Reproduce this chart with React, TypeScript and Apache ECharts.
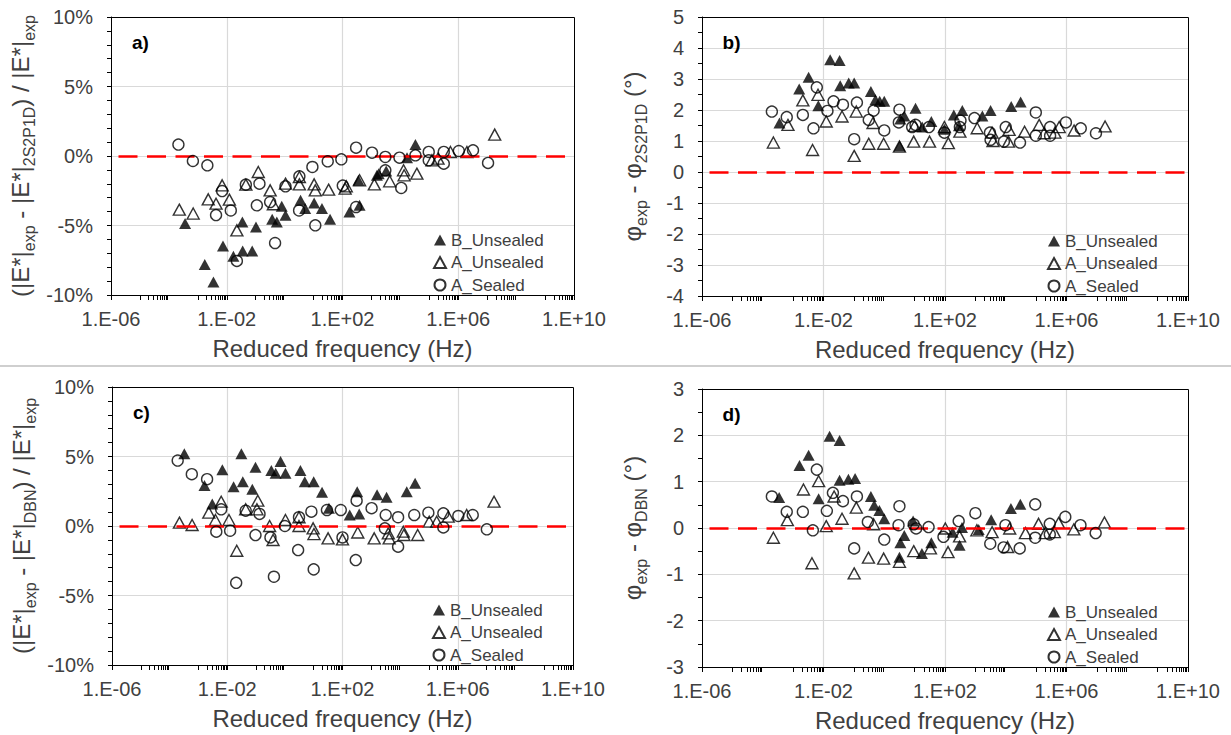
import React, { useEffect, useRef } from 'react';
import * as echarts from 'echarts';

// ---------- data (x = log10 of reduced frequency in Hz, y = deviation) ----------
const seriesNames = ['B_Unsealed', 'A_Unsealed', 'A_Sealed'];

// a) |E*| vs 2S2P1D (%)
const aB = [[-3.44,-4.86],[-2.76,-7.81],[-2.46,-9.06],[-2.13,-6.47],[-1.77,-7.22],[-1.46,-4.75],[-1.45,-6.83],[-1.12,-6.83],[-0.99,-5.11],[-0.43,-4.55],[-0.27,-4.75],[-0.10,-3.62],[0.03,-4.27],[0.55,-3.19],[0.71,-3.78],[1.02,-3.38],[1.29,-3.78],[1.57,-4.55],[2.24,-4.03],[2.59,-3.55],[2.55,-1.75],[3.19,-1.39],[3.25,-1.27],[3.51,-1.08],[4.23,-0.12],[4.52,0.82]];
const aA = [[-3.64,-3.86],[-3.16,-4.14],[-2.64,-3.12],[-2.37,-3.43],[-2.16,-2.11],[-1.91,-3.14],[-1.65,-5.35],[-1.34,-2.06],[-0.91,-1.15],[-0.50,-2.47],[-0.39,-3.47],[0.03,-1.99],[0.51,-1.51],[0.51,-2.04],[1.02,-2.04],[1.06,-2.47],[1.52,-2.42],[2.09,-2.35],[2.13,-2.18],[2.59,-1.75],[3.10,-2.04],[3.63,-1.82],[4.11,-1.03],[4.13,-1.39],[4.57,-1.27],[5.09,-0.31],[5.30,-0.19],[5.73,0.29],[6.30,0.29],[7.26,1.54]];
const aS = [[-3.67,0.82],[-3.17,-0.36],[-2.67,-0.67],[-2.37,-4.25],[-2.16,-2.52],[-1.86,-3.92],[-1.65,-7.55],[-1.34,-2.06],[-0.87,-1.99],[-0.96,-3.55],[-0.50,-3.31],[-0.33,-6.26],[0.03,-2.18],[0.51,-1.46],[0.50,-3.92],[0.96,-0.79],[1.06,-4.99],[1.49,-0.38],[1.96,-0.24],[2.01,-2.13],[2.47,0.60],[2.47,-3.67],[3.02,0.24],[3.48,-0.07],[3.48,-1.03],[3.97,-0.12],[4.03,-2.30],[4.52,0.05],[4.98,0.29],[4.98,-0.31],[5.50,0.29],[5.50,-0.55],[6.02,0.36],[6.51,0.41],[7.03,-0.50]];

// b) phase vs 2S2P1D (deg)
const bB = [[-3.45,1.58],[-2.80,2.68],[-2.49,3.06],[-2.17,2.14],[-1.78,3.62],[-1.47,3.60],[-1.45,2.78],[-1.17,2.87],[-0.99,2.87],[-0.44,2.60],[-0.29,2.33],[-0.15,2.28],[0.00,2.28],[0.53,1.71],[0.66,1.81],[0.51,0.84],[1.03,2.06],[1.25,1.45],[1.55,1.63],[1.98,1.38],[2.29,1.84],[2.57,1.98],[2.46,1.49],[3.23,1.81],[3.50,1.98],[4.18,2.11],[4.49,2.26]];
const bA = [[-3.65,0.95],[-3.17,1.52],[-2.68,2.31],[-2.36,0.71],[-2.18,2.49],[-1.91,1.63],[-1.39,1.79],[-0.99,0.52],[-0.92,1.95],[-0.51,0.91],[-0.37,1.58],[-0.02,0.91],[0.50,0.82],[0.97,0.98],[1.00,1.49],[1.49,0.98],[1.98,1.45],[2.11,0.93],[2.49,1.30],[3.06,1.41],[3.55,1.27],[3.58,1.00],[4.09,0.98],[4.11,1.36],[4.62,1.30],[5.10,1.52],[5.26,1.25],[5.62,1.27],[5.76,1.45],[6.25,1.34],[7.27,1.47]];
const bS = [[-3.70,1.95],[-3.21,1.77],[-2.68,1.84],[-2.33,1.41],[-2.22,2.73],[-1.87,1.97],[-1.67,2.28],[-1.36,2.17],[-0.99,1.06],[-0.90,2.24],[-0.51,1.68],[-0.35,1.98],[0.00,1.34],[0.50,2.01],[0.48,1.60],[0.92,1.45],[1.03,1.52],[1.47,1.45],[1.98,1.27],[2.49,1.45],[2.51,1.66],[2.97,1.74],[3.48,1.27],[3.50,1.04],[4.00,1.45],[3.94,0.98],[4.47,0.95],[4.99,1.92],[4.99,1.17],[5.46,1.45],[5.46,1.17],[5.98,1.60],[6.47,1.41],[6.97,1.25]];

// c) |E*| vs DBN (%)
const cB = [[-3.49,5.19],[-2.79,2.91],[-2.52,1.59],[-2.17,4.04],[-1.78,2.83],[-1.51,5.19],[-1.46,3.19],[-1.13,2.65],[-1.02,4.23],[-0.47,3.99],[-0.32,3.80],[-0.15,4.64],[0.02,3.80],[0.54,3.99],[0.69,3.19],[1.00,3.19],[1.29,2.43],[1.53,1.28],[2.25,0.79],[2.58,0.87],[2.51,2.47],[3.20,2.24],[3.53,2.07],[4.23,2.47],[4.52,3.08]];
const cA = [[-3.66,0.24],[-3.22,0.07],[-2.64,0.96],[-2.21,1.75],[-2.41,0.43],[-1.94,0.43],[-1.67,-1.78],[-1.36,1.20],[-0.94,1.82],[-0.97,1.20],[-0.53,0.00],[-0.41,-1.01],[0.02,0.43],[0.49,0.63],[0.49,0.00],[0.98,-0.17],[1.01,-0.58],[1.50,-0.89],[2.00,-0.96],[2.53,-0.47],[3.10,-0.89],[3.62,-0.89],[3.59,-0.53],[4.11,-0.41],[4.13,-0.65],[4.61,-0.65],[5.01,0.31],[5.27,0.31],[5.67,0.67],[6.31,0.79],[7.26,1.75]];
const cS = [[-3.72,4.71],[-3.23,3.73],[-2.70,3.37],[-2.21,1.20],[-2.38,-0.41],[-1.90,-0.34],[-1.69,-4.09],[-1.36,1.10],[-1.02,-0.65],[-0.88,0.87],[-0.50,-0.82],[-0.38,-3.65],[0.00,0.00],[0.49,0.63],[0.46,-1.73],[0.92,1.03],[1.00,-3.12],[1.46,1.15],[1.94,1.15],[2.00,-0.82],[2.49,1.82],[2.46,-2.45],[3.01,1.28],[3.50,0.79],[3.47,-0.17],[3.93,0.63],[3.93,-1.49],[4.49,0.79],[4.98,0.96],[5.50,0.91],[5.50,-0.10],[6.02,0.72],[6.52,0.79],[7.01,-0.24]];

// d) phase vs DBN (deg)
const dB = [[-3.46,0.66],[-2.79,1.35],[-2.49,1.57],[-2.16,0.63],[-1.80,1.98],[-1.47,1.89],[-1.47,1.03],[-1.18,1.05],[-0.96,1.07],[-0.44,0.68],[-0.33,0.49],[-0.16,0.38],[0.00,0.20],[0.53,-0.32],[0.66,-0.16],[0.95,0.15],[0.50,-0.63],[1.24,-0.55],[1.55,-0.32],[2.25,-0.09],[2.56,0.01],[2.48,-0.37],[3.11,-0.03],[3.52,0.18],[4.17,0.42],[4.48,0.51]];
const dA = [[-3.65,-0.21],[-3.19,0.17],[-2.66,0.83],[-2.38,-0.76],[-2.16,1.01],[-1.91,0.04],[-1.65,0.68],[-1.39,0.20],[-0.99,-0.98],[-0.92,0.44],[-0.52,-0.64],[-0.35,0.08],[-0.02,-0.66],[0.50,-0.73],[0.97,-0.50],[1.52,-0.44],[2.01,-0.01],[2.10,-0.52],[2.48,-0.18],[3.05,-0.05],[3.55,-0.09],[4.13,-0.01],[4.06,-0.41],[4.65,-0.11],[5.08,0.09],[5.30,-0.11],[5.60,-0.09],[5.74,0.11],[6.24,-0.03],[7.25,0.12]];
const dS = [[-3.70,0.68],[-3.21,0.35],[-2.68,0.35],[-2.35,-0.05],[-2.22,1.26],[-1.89,0.37],[-1.69,0.76],[-1.36,0.58],[-0.99,-0.44],[-0.90,0.68],[-0.54,0.13],[0.00,-0.25],[0.50,0.47],[0.47,0.06],[0.97,0.08],[1.05,-0.01],[1.46,0.02],[1.95,-0.19],[2.45,0.15],[3.00,0.32],[3.49,-0.34],[3.99,0.06],[3.93,-0.42],[4.46,-0.44],[4.97,0.51],[4.97,-0.21],[5.45,0.09],[5.45,-0.14],[5.96,0.24],[6.46,0.06],[6.96,-0.11]];

const panelLabels = ['a)', 'b)', 'c)', 'd)'];
const xTitle = 'Reduced frequency (Hz)';
const yTitles = [
  '{m|(|E*|}{s|exp}{m| - |E*|}{s|2S2P1D}{m|) / |E*|}{s|exp}',
  '{m|φ}{s|exp}{m| - φ}{s|2S2P1D}{m| (°)}',
  '{m|(|E*|}{s|exp}{m| - |E*|}{s|DBN}{m|) / |E*|}{s|exp}',
  '{m|φ}{s|exp}{m| - φ}{s|DBN}{m| (°)}',
];
const yRanges = [
  { min: -10, max: 10, interval: 5, minor: 5, pct: true },
  { min: -4, max: 5, interval: 1, minor: 2, pct: false },
  { min: -10, max: 10, interval: 5, minor: 5, pct: true },
  { min: -3, max: 3, interval: 1, minor: 2, pct: false },
];
const panelData = [[aB, aA, aS], [bB, bA, bS], [cB, cA, cS], [dB, dA, dS]];

// ---------- layout ----------
const FONT = '"Liberation Sans", Arial, Helvetica, sans-serif';
const TXT = '#404040';
const grids = [
  { left: 111, top: 17, width: 463, height: 278 },
  { left: 702, top: 17, width: 486, height: 279 },
  { left: 112, top: 387, width: 461, height: 278 },
  { left: 702, top: 389, width: 486, height: 278 },
];
const yNameGaps = [74, 53, 74, 53];

const fmtX = (v: number) => {
  const e = Math.round(v);
  return `1.E${e < 0 ? '-' : '+'}${String(Math.abs(e)).padStart(2, '0')}`;
};

// minor tick positions of the log axis (in decades)
const xMinorTickValues: number[] = [];
for (const m of [-6, -2, 2, 6]) {
  for (let n = 1; n <= 9; n++) {
    xMinorTickValues.push(m + 1 + Math.log10(n));
    xMinorTickValues.push(m + 3 + Math.log10(n));
  }
}

function buildOption() {
  const grid: any[] = [];
  const xAxis: any[] = [];
  const yAxis: any[] = [];
  const series: any[] = [];
  const legend: any[] = [];
  const graphic: any[] = [];

  grids.forEach((g, i) => {
    grid.push({ ...g, show: false, containLabel: false });
    xAxis.push({
      type: 'value', gridIndex: i, min: -6, max: 10, interval: 4, position: 'bottom',
      name: xTitle, nameLocation: 'middle', nameGap: 41,
      nameTextStyle: { fontFamily: FONT, fontSize: 24, color: TXT },
      axisLine: { show: true, onZero: false, lineStyle: { color: '#000', width: 1 } },
      axisTick: { show: true, inside: false, length: 5, lineStyle: { color: '#000', width: 1 } },
      axisLabel: { show: true, margin: 14, formatter: fmtX, fontFamily: FONT, fontSize: 20, color: TXT },
      splitLine: { show: true, showMinLine: false, showMaxLine: false, lineStyle: { color: '#d9d9d9', width: 1.2 } },
    });
    const yr = yRanges[i];
    yAxis.push({
      type: 'value', gridIndex: i, min: yr.min, max: yr.max, interval: yr.interval,
      name: yTitles[i], nameLocation: 'middle', nameRotate: 90, nameGap: yNameGaps[i],
      nameTextStyle: {
        fontFamily: FONT, color: TXT,
        rich: {
          m: { fontFamily: FONT, fontSize: 24, lineHeight: 34, color: TXT },
          s: { fontFamily: FONT, fontSize: 16, lineHeight: 16, verticalAlign: 'bottom', color: TXT },
        },
      },
      axisLine: { show: true, onZero: false, lineStyle: { color: '#000', width: 1 } },
      axisTick: { show: true, inside: false, length: 4, lineStyle: { color: '#000', width: 1 } },
      minorTick: { show: true, splitNumber: yr.minor, length: 4, lineStyle: { color: '#000', width: 1 } },
      axisLabel: {
        margin: 18, fontFamily: FONT, fontSize: 20, color: TXT,
        formatter: (v: number) => (yr.pct ? `${v}%` : `${v}`),
      },
      splitLine: { show: true, showMinLine: false, showMaxLine: false, lineStyle: { color: '#d9d9d9', width: 1.2 } },
    });

    const [B, A, S] = panelData[i];
    const common = { xAxisIndex: i, yAxisIndex: i, silent: true, emphasis: { disabled: true } };
    series.push({
      ...common, type: 'scatter', name: seriesNames[0], data: B, symbol: 'triangle', symbolSize: [12, 11],
      itemStyle: { color: '#000' }, z: 3,
      markLine: {
        silent: true, symbol: 'none', label: { show: false },
        lineStyle: { color: '#ff0000', width: 2.5, type: [19, 9.5], dashOffset: 21 },
        data: [{ yAxis: 0 }],
      },
    });
    series.push({
      ...common, type: 'scatter', name: seriesNames[1], data: A, symbol: 'triangle', symbolSize: [12, 11],
      itemStyle: { color: 'rgba(255,255,255,0)', borderColor: '#000', borderWidth: 1.4 }, z: 4,
    });
    series.push({
      ...common, type: 'scatter', name: seriesNames[2], data: S, symbol: 'circle', symbolSize: 11,
      itemStyle: { color: 'rgba(255,255,255,0)', borderColor: '#000', borderWidth: 1.4 }, z: 5,
    });

    legend.push({
      orient: 'vertical', left: g.left + g.width - 146, top: g.top + g.height - 68.5,
      itemWidth: 12, itemHeight: 11, itemGap: 5.5, selectedMode: false,
      textStyle: { fontFamily: FONT, fontSize: 17, color: TXT, lineHeight: 17 },
      data: seriesNames,
    });

    graphic.push({
      type: 'rect', z: 50, silent: true,
      shape: { x: g.left + 0.5, y: g.top + 0.5, width: g.width, height: g.height },
      style: { fill: 'none', stroke: '#000', lineWidth: 1 },
    });
    graphic.push({
      type: 'text', z: 50, silent: true, x: g.left + 29.5, y: g.top + 25.5,
      style: {
        text: panelLabels[i], font: `bold 19px ${FONT}`, fill: '#000',
        align: 'center', verticalAlign: 'middle', textAlign: 'center', textVerticalAlign: 'middle',
      },
    });
  });

  // second, tick-only x axis per grid for the log minor ticks
  grids.forEach((g, i) => {
    xAxis.push({
      type: 'value', gridIndex: i, min: -6, max: 10, interval: 4, position: 'bottom', offset: 0,
      axisLine: { show: false, onZero: false },
      axisTick: { show: true, inside: false, length: 5, customValues: xMinorTickValues, lineStyle: { color: '#000', width: 1 } },
      axisLabel: { show: false },
      splitLine: { show: false },
      silent: true,
    });
  });

  graphic.push({
    type: 'line', z: 50, silent: true,
    shape: { x1: 0, y1: 366, x2: 1231, y2: 366 },
    style: { stroke: '#cfcfcf', lineWidth: 2 },
  });

  return {
    animation: false,
    backgroundColor: '#ffffff',
    textStyle: { fontFamily: FONT },
    grid, xAxis, yAxis, series, legend, graphic,
  };
}

export default function App() {
  const ref = useRef<HTMLDivElement>(null);
  useEffect(() => {
    if (!ref.current) return;
    const chart = echarts.init(ref.current, undefined, { renderer: 'svg' });
    chart.setOption(buildOption() as any);
    return () => chart.dispose();
  }, []);
  return (
    <div
      ref={ref}
      style={{ position: 'absolute', left: 0, top: 0, width: 1231, height: 735, background: '#fff' }}
    />
  );
}
